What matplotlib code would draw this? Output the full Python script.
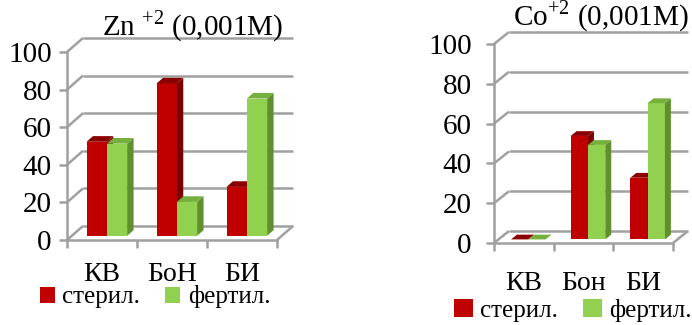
import matplotlib.pyplot as plt
from matplotlib.patches import Polygon, Patch

plt.rcParams['font.family'] = ['Liberation Serif', 'DejaVu Serif']
plt.rcParams['mathtext.fontset'] = 'custom'
plt.rcParams['mathtext.rm'] = 'Liberation Serif'

zn_cats = ['КВ', 'БоН', 'БИ']
zn_steril = [50, 81, 26]
zn_fertil = [49, 18, 73]

co_cats = ['КВ', 'Бон', 'БИ']
co_steril = [0, 52, 31]
co_fertil = [0, 47.5, 68.5]

series_names = ['стерил.', 'фертил.']
yticks = [0, 20, 40, 60, 80, 100]

# front, top, side colours
red = ['#c00000', '#8a0000', '#7a0000']
green = ['#92d050', '#76b03c', '#5f8f2f']

W, H = 692, 325
fig = plt.figure(figsize=(W / 100, H / 100), dpi=100)
FS = 21


def px_axes(x0, x1, y0, y100):
    return fig.add_axes([x0 / W, 1 - y0 / H, (x1 - x0) / W, (y0 - y100) / H])


def chart(ax, cats, s1, s2, dx, dy, label_pad, cat_pad):
    n = len(cats)
    ax.set_xlim(-0.5, n - 0.5)
    ax.set_ylim(0, 100)
    ax.patch.set_alpha(0)
    for s in ['top', 'right']:
        ax.spines[s].set_visible(False)
    for s in ['left', 'bottom']:
        ax.spines[s].set_color('#a0a0a0')
        ax.spines[s].set_linewidth(1.8)
    grid = dict(color='#a0a0a0', lw=1.8, clip_on=False, solid_capstyle='butt')
    for v in yticks:
        ax.plot([-0.5, -0.5 + dx], [v, v + dy], **grid)
        ax.plot([-0.5 + dx, n - 0.5 + dx], [v + dy, v + dy], **grid)
    ax.plot([n - 0.5, n - 0.5 + dx], [0, dy], **grid)

    ax.set_yticks(yticks)
    ax.tick_params(axis='y', length=6, width=1.8, color='#a0a0a0',
                   labelsize=FS, pad=label_pad)
    ax.set_xticks([i - 0.5 for i in range(n + 1)])
    ax.set_xticklabels([])
    ax.tick_params(axis='x', which='major', length=6, width=1.8, color='#a0a0a0')
    ax.set_xticks(range(n), minor=True)
    ax.set_xticklabels(cats, minor=True)
    ax.tick_params(axis='x', which='minor', length=0, labelsize=FS - 1, pad=cat_pad)

    bw = 0.29
    f, d = 0.3, 0.4
    base = f * dy
    for i in range(n):
        for k, (vals, cols) in enumerate([(s1, red), (s2, green)]):
            xl = i - bw + k * bw + f * dx
            top = base + vals[i]
            ax.bar(xl, vals[i], bottom=base, width=bw, align='edge',
                   color=cols[0], lw=0, clip_on=False, zorder=3 + k)
            ddx, ddy = d * dx, d * dy
            side = [(xl + bw, base), (xl + bw + ddx, base + ddy),
                    (xl + bw + ddx, top + ddy), (xl + bw, top)]
            cap = [(xl, top), (xl + bw, top), (xl + bw + ddx, top + ddy),
                   (xl + ddx, top + ddy)]
            ax.add_patch(Polygon(side, closed=True, fc=cols[2], lw=0,
                                 clip_on=False, zorder=3 + k))
            ax.add_patch(Polygon(cap, closed=True, fc=cols[1], lw=0,
                                 clip_on=False, zorder=3 + k))


ax1 = px_axes(67, 277, 240, 52)
chart(ax1, zn_cats, zn_steril, zn_fertil, 0.23, 7.5, 5, 16)
ax2 = px_axes(494, 673, 243, 44)
chart(ax2, co_cats, co_steril, co_fertil, 0.25, 6, 10, 20)

fig.text(102 / W, 1 - 35 / H, r'Zn $^{\mathrm{+2}}$ (0,001M)', fontsize=FS,
         ha='left', va='baseline')
fig.text(689 / W, 1 - 25 / H, r'Co$^{\mathrm{+2}}$ (0,001M)', fontsize=FS,
         ha='right', va='baseline')

handles = [Patch(fc=red[0]), Patch(fc=green[0])]
fig.legend(handles, series_names, loc='center', ncol=2, frameon=False,
           bbox_to_anchor=(155 / W, 1 - 297 / H), fontsize=18,
           handlelength=0.6, handleheight=0.6, handletextpad=0.3,
           columnspacing=1.0, borderpad=0)
fig.legend(handles, series_names, loc='center', ncol=2, frameon=False,
           bbox_to_anchor=(573 / W, 1 - 310 / H), fontsize=18,
           handlelength=0.75, handleheight=0.75, handletextpad=0.3,
           columnspacing=1.0, borderpad=0)

fig.savefig('out.png', dpi=100)
